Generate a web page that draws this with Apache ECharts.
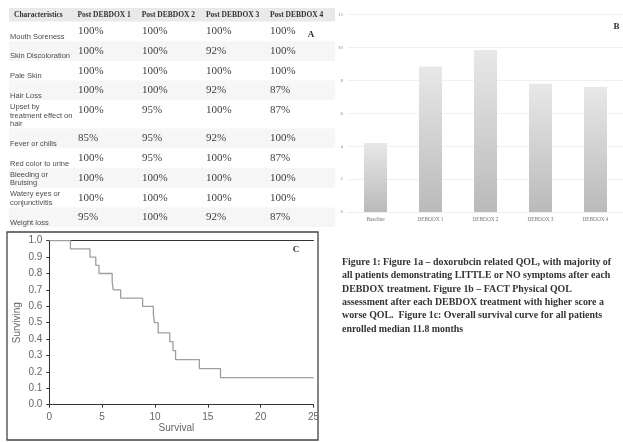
<!DOCTYPE html>
<html><head><meta charset="utf-8">
<script src="https://cdn.jsdelivr.net/npm/echarts@6/dist/echarts.min.js"></script>
<style>html,body{margin:0;padding:0;background:#fff}#c{width:623px;height:442px}</style>
</head><body><div id="c"></div><script>
// ---- Panel A: table data ----
const tableHeaders = ['Characteristics', 'Post DEBDOX 1', 'Post DEBDOX 2', 'Post DEBDOX 3', 'Post DEBDOX 4'];
const characteristics = ['Mouth Soreness', 'Skin Discoloration', 'Pale Skin', 'Hair Loss',
  'Upset by\ntreatment effect on\nhair', 'Fever or chills', 'Red color to urine',
  'Bleeding or\nBruising', 'Watery eyes or\nconjunctivitis', 'Weight loss'];
const postDebdox1 = ['100%', '100%', '100%', '100%', '100%', '85%', '100%', '100%', '100%', '95%'];
const postDebdox2 = ['100%', '100%', '100%', '100%', '95%', '95%', '95%', '100%', '100%', '100%'];
const postDebdox3 = ['100%', '92%', '100%', '92%', '100%', '92%', '100%', '100%', '100%', '92%'];
const postDebdox4 = ['100%', '100%', '100%', '87%', '87%', '100%', '87%', '100%', '100%', '87%'];

// ---- Panel B: FACT physical QOL ----
const qolCategories = ['Baseline', 'DEBDOX 1', 'DEBDOX 2', 'DEBDOX 3', 'DEBDOX 4'];
const qolScores = [4.2, 8.85, 9.85, 7.8, 7.6];

// ---- Panel C: Kaplan-Meier survival ----
const survivalTimes = [0, 2.0, 3.85, 4.4, 4.7, 5.95, 6.05, 6.75, 8.83, 9.85, 9.95, 10.3, 11.4, 11.7, 11.95, 14.2, 16.2, 25];
const survivalProb  = [1.0, 0.95, 0.90, 0.85, 0.80, 0.75, 0.70, 0.65, 0.60, 0.55, 0.50, 0.4375, 0.385, 0.33, 0.275, 0.22, 0.165, 0.165];

// ---- Caption ----
const captionLines = [
  'Figure 1: Figure 1a \u2013 doxorubcin related QOL, with majority of',
  'all patients demonstrating LITTLE or NO symptoms after each',
  'DEBDOX treatment. Figure 1b \u2013 FACT Physical QOL',
  'assessment after each DEBDOX treatment with higher score a',
  'worse QOL.  Figure 1c: Overall survival curve for all patients',
  'enrolled median 11.8 months'
];

const chart = echarts.init(document.getElementById('c'));
const graphics = [];

// Table layout
const colX = [10, 78, 142, 206, 270];
const headX = [14, 77.5, 141.7, 206, 270];
const tableLeft = 9, tableWidth = 326;
graphics.push({type: 'rect', shape: {x: tableLeft, y: 8, width: tableWidth, height: 13.5}, style: {fill: '#e9e9e9'}, silent: true});
tableHeaders.forEach((h, i) => {
  graphics.push({type: 'text', x: headX[i], y: 15, style: {text: h, font: 'bold 7.5px "Liberation Serif", serif', fill: '#333', verticalAlign: 'middle', align: 'left'}});
});
const cols = [postDebdox1, postDebdox2, postDebdox3, postDebdox4];
let rowTop = 21.5;
characteristics.forEach((lab, r) => {
  const nLines = lab.split('\n').length;
  const h = nLines >= 3 ? 28.3 : 19.7;
  if (r % 2 === 1) {
    graphics.push({type: 'rect', shape: {x: tableLeft, y: rowTop, width: tableWidth, height: h}, style: {fill: '#f6f6f6'}, silent: true});
  }
  graphics.push({type: 'text', x: colX[0], y: rowTop + h - 0.3, style: {text: lab, font: '7.5px "Liberation Sans", Arial, sans-serif', fill: '#4d4d4d', verticalAlign: 'bottom', align: 'left', lineHeight: 8.5}});
  cols.forEach((col, c) => {
    graphics.push({type: 'text', x: colX[c + 1], y: rowTop + 10, style: {text: col[r], font: '11px "Liberation Serif", serif', fill: '#3d3d3d', verticalAlign: 'middle', align: 'left'}});
  });
  rowTop += h;
});
graphics.push({type: 'text', x: 311, y: 34.5, style: {text: 'A', font: 'bold 9px "Liberation Serif", serif', fill: '#333', align: 'center', verticalAlign: 'middle'}});
graphics.push({type: 'text', x: 616.5, y: 27, style: {text: 'B', font: 'bold 9px "Liberation Serif", serif', fill: '#333', align: 'center', verticalAlign: 'middle'}});

// Panel C frame & letter
graphics.push({type: 'rect', shape: {x: 7, y: 232, width: 311, height: 208}, style: {fill: 'none', stroke: '#444', lineWidth: 1.3}, silent: true});
graphics.push({type: 'text', x: 296, y: 249.5, style: {text: 'C', font: 'bold 9px "Liberation Serif", serif', fill: '#333', align: 'center', verticalAlign: 'middle'}});

// Caption
captionLines.forEach((t, i) => {
  graphics.push({type: 'text', x: 342, y: 262.3 + i * 13.4, style: {text: t, font: 'bold 9.9px "Liberation Serif", serif', fill: '#333', align: 'left', verticalAlign: 'middle'}});
});

const kmData = survivalTimes.map((t, i) => [t, survivalProb[i]]);

chart.setOption({
  animation: false,
  backgroundColor: '#fff',
  grid: [
    {left: 348, top: 14.7, width: 280, height: 197.3},
    {left: 49.3, top: 240.7, width: 264.2, height: 164}
  ],
  xAxis: [
    {gridIndex: 0, type: 'category', data: qolCategories,
     axisLine: {show: true, lineStyle: {color: '#eeeeee'}}, axisTick: {show: false},
     axisLabel: {fontSize: 5.3, fontFamily: '"Liberation Serif", serif', color: '#777', margin: 5}},
    {gridIndex: 1, type: 'value', min: 0, max: 25, interval: 5,
     axisLine: {show: true, lineStyle: {color: '#333', width: 1}},
     axisTick: {show: true, length: 3, lineStyle: {color: '#333'}},
     axisLabel: {fontSize: 10, fontFamily: '"Liberation Sans", Arial, sans-serif', color: '#666', margin: 8},
     splitLine: {show: false},
     name: 'Survival', nameLocation: 'middle', nameGap: 19,
     nameTextStyle: {fontSize: 10, fontFamily: '"Liberation Sans", Arial, sans-serif', color: '#666', padding: [0, 10, 0, 0]}},
    {gridIndex: 1, type: 'value', min: 0, max: 25, position: 'top',
     axisLine: {show: true, lineStyle: {color: '#333', width: 1}},
     axisTick: {show: false}, axisLabel: {show: false}, splitLine: {show: false}}
  ],
  yAxis: [
    {gridIndex: 0, type: 'value', min: 0, max: 12, interval: 2,
     axisLine: {show: false}, axisTick: {show: false},
     axisLabel: {fontSize: 5, fontFamily: '"Liberation Serif", serif', color: '#888', margin: 5},
     splitLine: {lineStyle: {color: '#f0f0f0', width: 1}}},
    {gridIndex: 1, type: 'value', min: 0, max: 1, interval: 0.1,
     axisLine: {show: true, lineStyle: {color: '#333', width: 1}},
     axisTick: {show: true, length: 3, lineStyle: {color: '#333'}},
     axisLabel: {fontSize: 10, fontFamily: '"Liberation Sans", Arial, sans-serif', color: '#666', margin: 7, formatter: v => v.toFixed(1)},
     splitLine: {show: false},
     name: 'Surviving', nameLocation: 'middle', nameGap: 27,
     nameTextStyle: {fontSize: 10, fontFamily: '"Liberation Sans", Arial, sans-serif', color: '#666'}}
  ],
  series: [
    {type: 'bar', xAxisIndex: 0, yAxisIndex: 0, data: qolScores, barWidth: 23,
     itemStyle: {color: new echarts.graphic.LinearGradient(0, 0, 0, 1, [
       {offset: 0, color: '#e8e8e8'}, {offset: 1, color: '#bababa'}])}},
    {type: 'line', xAxisIndex: 1, yAxisIndex: 1, data: kmData, step: 'end',
     showSymbol: false, symbol: 'none', lineStyle: {color: '#9e9e9e', width: 1.3}}
  ],
  graphic: graphics
});
</script></body></html>
